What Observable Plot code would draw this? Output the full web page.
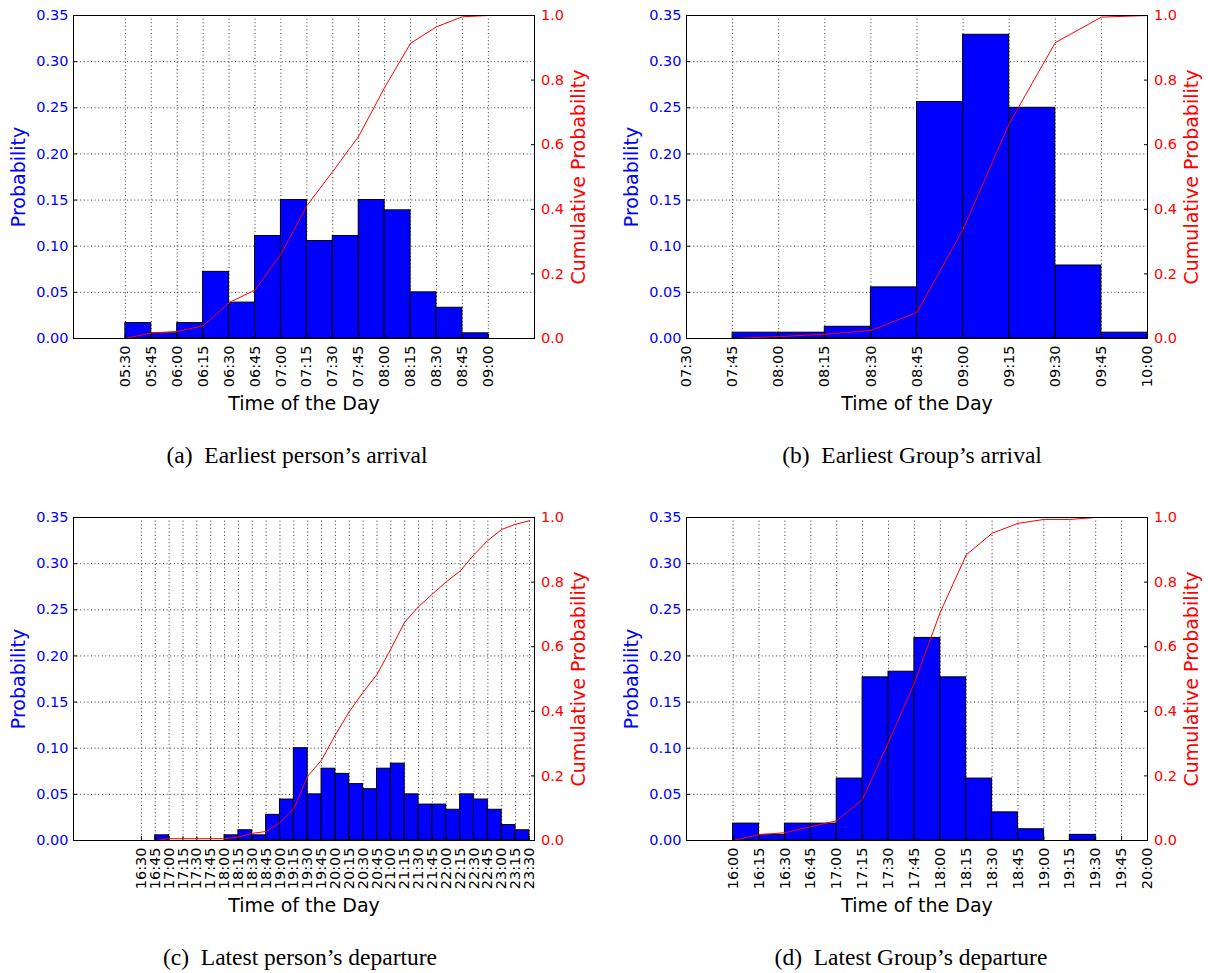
<!DOCTYPE html>
<html><head><meta charset="utf-8">
<script src="https://cdn.jsdelivr.net/npm/d3@7"></script>
<script src="https://cdn.jsdelivr.net/npm/@observablehq/plot@0.6"></script>
<style>
body{margin:0;background:#fff;}
#fig{position:relative;width:1208px;height:973px;background:#fff;overflow:hidden;}
.panel{position:absolute;width:613px;height:440px;}
.panel svg{position:absolute;left:0;top:0;}
.cap{position:absolute;font-family:"Liberation Serif","Times New Roman",serif;font-size:23.5px;line-height:27px;color:#000;white-space:nowrap;transform:translateX(-50%);}
</style></head><body><div id="fig"></div><script>
// ---------- (a) Earliest person's arrival ----------
const binsA = ["05:30","05:45","06:00","06:15","06:30","06:45","07:00","07:15","07:30","07:45","08:00","08:15","08:30","08:45"];
const probA = [0.0167,0.0056,0.0167,0.0722,0.0389,0.1111,0.1500,0.1056,0.1111,0.1500,0.1389,0.0500,0.0333,0.0056];
const cumTimesA = ["05:30","05:45","06:00","06:15","06:30","06:45","07:00","07:15","07:30","07:45","08:00","08:15","08:30","08:45","09:00"];
const cumA = [0,0.017,0.022,0.039,0.111,0.150,0.261,0.411,0.517,0.626,0.777,0.914,0.965,0.996,1.0];
const ticksA = ["05:30","05:45","06:00","06:15","06:30","06:45","07:00","07:15","07:30","07:45","08:00","08:15","08:30","08:45","09:00"];

// ---------- (b) Earliest Group's arrival ----------
const binsB = ["07:30","07:45","08:00","08:15","08:30","08:45","09:00","09:15","09:30","09:45"];
const probB = [0,0.0063,0.0063,0.0127,0.0554,0.2563,0.3291,0.2500,0.0791,0.0063];
const cumTimesB = ["07:30","07:45","08:00","08:15","08:30","08:45","09:00","09:15","09:30","09:45","10:00"];
const cumB = [0,0,0.006,0.013,0.025,0.081,0.338,0.665,0.916,0.995,1.0];
const ticksB = ["07:30","07:45","08:00","08:15","08:30","08:45","09:00","09:15","09:30","09:45","10:00"];

// ---------- (c) Latest person's departure ----------
const binsC = ["16:30","16:45","17:00","17:15","17:30","17:45","18:00","18:15","18:30","18:45","19:00","19:15","19:30","19:45","20:00","20:15","20:30","20:45","21:00","21:15","21:30","21:45","22:00","22:15","22:30","22:45","23:00","23:15"];
const probC = [0,0.0056,0,0,0,0,0.0056,0.0111,0.0056,0.0278,0.0444,0.1000,0.0500,0.0778,0.0722,0.0611,0.0556,0.0778,0.0833,0.0500,0.0389,0.0389,0.0333,0.0500,0.0444,0.0333,0.0167,0.0111];
const cumTimesC = ["16:30","16:45","17:00","17:15","17:30","17:45","18:00","18:15","18:30","18:45","19:00","19:15","19:30","19:45","20:00","20:15","20:30","20:45","21:00","21:15","21:30","21:45","22:00","22:15","22:30","22:45","23:00","23:15","23:30"];
const cumC = [0,0,0.0056,0.0056,0.0056,0.0056,0.0056,0.011,0.022,0.028,0.056,0.098,0.199,0.249,0.327,0.399,0.459,0.514,0.593,0.676,0.724,0.763,0.801,0.834,0.885,0.929,0.963,0.979,0.99];
const ticksC = ["16:30","16:45","17:00","17:15","17:30","17:45","18:00","18:15","18:30","18:45","19:00","19:15","19:30","19:45","20:00","20:15","20:30","20:45","21:00","21:15","21:30","21:45","22:00","22:15","22:30","22:45","23:00","23:15","23:30"];

// ---------- (d) Latest Group's departure ----------
const binsD = ["16:00","16:15","16:30","16:45","17:00","17:15","17:30","17:45","18:00","18:15","18:30","18:45","19:00","19:15","19:30","19:45"];
const probD = [0.0183,0.0061,0.0183,0.0183,0.0671,0.1768,0.1829,0.2195,0.1768,0.0671,0.0305,0.0122,0,0.0061,0,0];
const cumTimesD = ["16:00","16:15","16:30","16:45","17:00","17:15","17:30","17:45","18:00","18:15","18:30","18:45","19:00","19:15","19:30"];
const cumD = [0,0.018,0.024,0.043,0.061,0.128,0.305,0.488,0.707,0.884,0.951,0.982,0.994,0.994,1.0];
const ticksD = ["16:00","16:15","16:30","16:45","17:00","17:15","17:30","17:45","18:00","18:15","18:30","18:45","19:00","19:15","19:30","19:45","20:00"];

const probTicks = [0,0.05,0.10,0.15,0.20,0.25,0.30,0.35];
const cumTicks = [0,0.2,0.4,0.6,0.8,1.0];
const captions = ["(a)\u2002Earliest person\u2019s arrival","(b)\u2002Earliest Group\u2019s arrival","(c)\u2002Latest person\u2019s departure","(d)\u2002Latest Group\u2019s departure"];
const xLabel = "Time of the Day";
const yLabel = "Probability";
const y2Label = "Cumulative Probability";

const toMin = s => { const [h,m] = s.split(":").map(Number); return h*60+m; };
const fmt = m => String(Math.floor(m/60)).padStart(2,"0")+":"+String(Math.round(m%60)).padStart(2,"0");
const BIN = 15;

const panels = [
  {bins:binsA, probs:probA, cumTimes:cumTimesA, cum:cumA, ticks:ticksA, domain:[300,566.7], left:0,   top:0,   cap:captions[0], capX:297, capTop:442},
  {bins:binsB, probs:probB, cumTimes:cumTimesB, cum:cumB, ticks:ticksB, domain:[450,600],   left:613, top:0,   cap:captions[1], capX:912, capTop:442},
  {bins:binsC, probs:probC, cumTimes:cumTimesC, cum:cumC, ticks:ticksC, domain:[916.5,1415.5], left:0, top:502, cap:captions[2], capX:300, capTop:944},
  {bins:binsD, probs:probD, cumTimes:cumTimesD, cum:cumD, ticks:ticksD, domain:[933,1200],  left:613, top:502, cap:captions[3], capX:911, capTop:944}
];

const fig = document.getElementById("fig");
const W=613, H=440, ML=73, MT=15, MR=79, MB=102;
const BLUE="#0000ff", RED="#ff0000";
const gridStyle = {stroke:"#000", strokeOpacity:1, strokeWidth:0.8, strokeDasharray:"1,2.6"};

for (const cfg of panels) {
  const bars = cfg.bins.map((b,i)=>({x1:toMin(b), x2:toMin(b)+BIN, p:cfg.probs[i]}));
  const cum = cfg.cumTimes.map((t,i)=>({t:toMin(t), c:cfg.cum[i]}));
  const tickVals = cfg.ticks.map(toMin);
  const common = {width:W, height:H, marginLeft:ML, marginRight:MR, marginTop:MT, marginBottom:MB,
    style:{fontFamily:"'DejaVu Sans', sans-serif", fontSize:"14.5px", background:"transparent", overflow:"visible", maxWidth:"none"}};
  const p1 = Plot.plot({...common,
    x:{domain:cfg.domain},
    y:{domain:[0,0.35]},
    marks:[
      Plot.gridX(tickVals, gridStyle),
      Plot.gridY(probTicks, gridStyle),
      Plot.rectY(bars, {x1:"x1", x2:"x2", y1:0, y2:"p", fill:BLUE, stroke:"#000", strokeWidth:1}),
      Plot.axisY(probTicks, {anchor:"left", tickSize:-4, tickPadding:9, tickFormat:d=>d.toFixed(2), fill:BLUE, stroke:"#000", label:null}),
      Plot.axisX(tickVals, {anchor:"bottom", tickSize:-4, tickPadding:11, tickRotate:-90, tickFormat:fmt, fill:"#000", stroke:"#000", label:null}),
      Plot.text([yLabel], {text:d=>d, frameAnchor:"left", dx:-55, rotate:-90, textAnchor:"middle", lineAnchor:"middle", fill:BLUE, fontSize:19}),
      Plot.text([xLabel], {text:d=>d, frameAnchor:"bottom", dy:65, textAnchor:"middle", lineAnchor:"middle", fill:"#000", fontSize:19})
    ]});
  const p2 = Plot.plot({...common,
    x:{domain:cfg.domain, axis:null},
    y:{domain:[0,1]},
    marks:[
      Plot.line(cum, {x:"t", y:"c", stroke:RED, strokeWidth:1}),
      Plot.axisY(cumTicks, {anchor:"right", tickSize:-4, tickPadding:10.5, tickFormat:d=>d.toFixed(1), fill:RED, stroke:"#000", label:null}),
      Plot.text([y2Label], {text:d=>d, frameAnchor:"right", dx:44, rotate:-90, textAnchor:"middle", lineAnchor:"middle", fill:RED, fontSize:19}),
      Plot.frame({stroke:"#000", strokeWidth:1})
    ]});
  const div = document.createElement("div");
  div.className = "panel";
  div.style.left = cfg.left+"px";
  div.style.top = cfg.top+"px";
  div.appendChild(p1);
  div.appendChild(p2);
  fig.appendChild(div);
  const cap = document.createElement("div");
  cap.className = "cap";
  cap.style.left = cfg.capX+"px";
  cap.style.top = cfg.capTop+"px";
  cap.textContent = cfg.cap;
  fig.appendChild(cap);
}
</script></body></html>
